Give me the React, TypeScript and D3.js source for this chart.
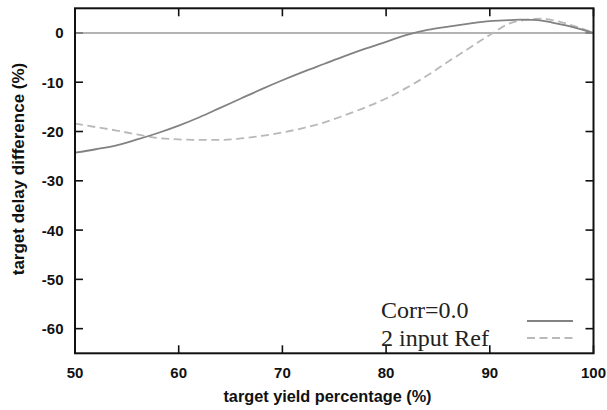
import React from "react";
import * as d3 from "d3";

// Target yield percentage (%) sample points
const yieldPct = [50, 52, 54, 56, 58, 60, 62, 64, 66, 68, 70, 72, 74, 76, 78, 80, 82, 84, 86, 88, 90, 92, 93, 94, 95, 96, 98, 100];

// Target delay difference (%) for Corr=0.0
const corrZero = [-24.3, -23.6, -22.8, -21.6, -20.3, -18.8, -17.1, -15.2, -13.3, -11.4, -9.6, -7.9, -6.3, -4.7, -3.2, -1.8, -0.4, 0.6, 1.3, 1.9, 2.4, 2.6, 2.7, 2.65, 2.5, 2.1, 1.2, 0];

// Target delay difference (%) for the 2 input reference
const twoInputRef = [-18.4, -19.1, -19.8, -20.6, -21.3, -21.6, -21.7, -21.7, -21.4, -20.9, -20.2, -19.3, -18.2, -16.7, -15.1, -13.3, -11.1, -8.6, -5.8, -3.1, -0.4, 2.0, 2.5, 2.8, 2.9, 2.6, 1.5, 0];

const xTicks = [50, 60, 70, 80, 90, 100];
const yTicks = [0, -10, -20, -30, -40, -50, -60];

const seriesNames = ["Corr=0.0", "2 input Ref"];

const W = 607;
const H = 410;
const left = 75;
const right = 593.5;
const top = 8.3;
const bottom = 353.3;

export default function App() {
  const x = d3.scaleLinear().domain([50, 100]).range([left, right]);
  const y = d3.scaleLinear().domain([-65, 5]).range([bottom, top]);

  const line = d3
    .line<[number, number]>()
    .x((d) => x(d[0]))
    .y((d) => y(d[1]))
    .curve(d3.curveMonotoneX);

  const solidPath = line(yieldPct.map((v, i) => [v, corrZero[i]] as [number, number])) || "";
  const dashPath = line(yieldPct.map((v, i) => [v, twoInputRef[i]] as [number, number])) || "";

  const tickLen = 8;
  const sans = "'Liberation Sans', Arial, sans-serif";
  const serif = "'Liberation Serif', 'Times New Roman', serif";

  return (
    <svg
      width={W}
      height={H}
      viewBox={`0 0 ${W} ${H}`}
      style={{ position: "absolute", left: 0, top: 0, background: "#fff" }}
    >
      <defs>
        <clipPath id="plot">
          <rect x={left} y={top} width={right - left} height={bottom - top} />
        </clipPath>
      </defs>

      {/* ticks, inward on all four sides */}
      <g stroke="#111" strokeWidth={1.6}>
        {xTicks.map((t) => (
          <g key={"xt" + t}>
            <line x1={x(t)} x2={x(t)} y1={bottom} y2={bottom - tickLen} />
            <line x1={x(t)} x2={x(t)} y1={top} y2={top + tickLen} />
          </g>
        ))}
        {yTicks.map((t) => (
          <g key={"yt" + t}>
            <line x1={left} x2={left + tickLen} y1={y(t)} y2={y(t)} />
            <line x1={right} x2={right - tickLen} y1={y(t)} y2={y(t)} />
          </g>
        ))}
      </g>

      {/* zero reference line */}
      <line x1={left} x2={right} y1={y(0)} y2={y(0)} stroke="#9a9a9a" strokeWidth={1.6} />

      <g clipPath="url(#plot)" fill="none">
        <path d={dashPath} stroke="#b9b9b9" strokeWidth={1.8} strokeDasharray="8,4.5" />
        <path d={solidPath} stroke="#828282" strokeWidth={1.8} />
      </g>

      {/* frame */}
      <rect x={left} y={top} width={right - left} height={bottom - top} fill="none" stroke="#111" strokeWidth={2} />

      {/* tick labels */}
      <g fontFamily={sans} fontWeight="bold" fontSize={15} fill="#111">
        {xTicks.map((t) => (
          <text key={"xl" + t} x={x(t)} y={377.5} textAnchor="middle">
            {t}
          </text>
        ))}
        {yTicks.map((t) => (
          <text key={"yl" + t} x={63.5} y={y(t) + 5.5} textAnchor="end">
            {t}
          </text>
        ))}
      </g>

      {/* axis titles */}
      <text
        x={327.5}
        y={401.5}
        textAnchor="middle"
        fontFamily={sans}
        fontWeight="bold"
        fontSize={16.3}
        fill="#111"
      >
        target yield percentage (%)
      </text>
      <text
        transform={`translate(23.5,169) rotate(-90)`}
        textAnchor="middle"
        fontFamily={sans}
        fontWeight="bold"
        fontSize={17}
        fill="#111"
      >
        target delay difference (%)
      </text>

      {/* legend */}
      <g fontFamily={serif} fontSize={24} fill="#222">
        <text x={381} y={318}>{seriesNames[0]}</text>
        <text x={381} y={346}>{seriesNames[1]}</text>
      </g>
      <line x1={527} x2={573} y1={321} y2={321} stroke="#828282" strokeWidth={1.8} />
      <line x1={527} x2={573} y1={338} y2={338} stroke="#b9b9b9" strokeWidth={1.8} strokeDasharray="8,4.5" />
    </svg>
  );
}
